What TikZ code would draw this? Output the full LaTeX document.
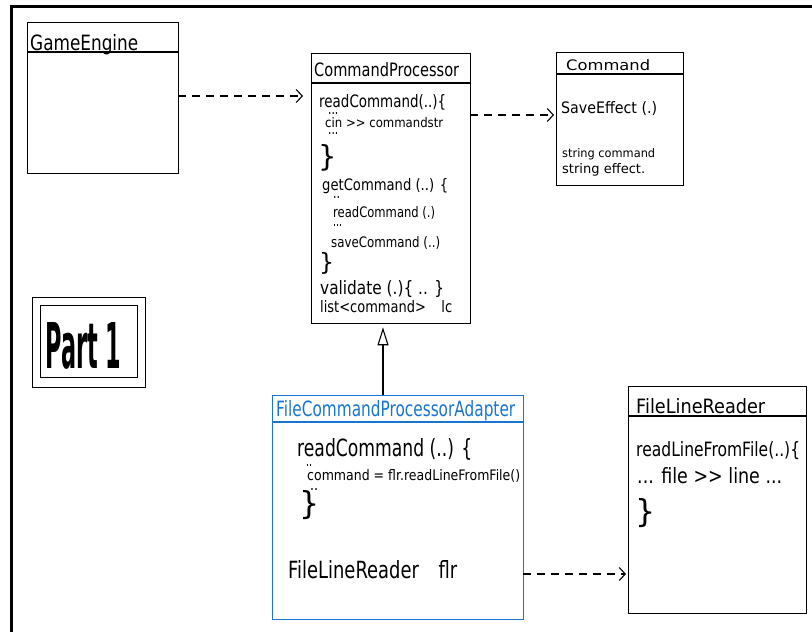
\documentclass[tikz,border=0pt]{standalone}
\usepackage{fontspec}
\setmainfont{DejaVu Sans}
\usetikzlibrary{arrows.meta}
\definecolor{adblue}{RGB}{24,118,210}
\newcommand\tw[3]{\resizebox{#1pt}{#2pt}{#3}}
\tikzset{
  cls/.style={draw=black, line width=1.3pt, rectangle, anchor=north west, inner sep=0pt, fill=none},
  hdr/.style={line width=1.3pt},
  txt/.style={anchor=base west, inner sep=0pt, font=\fontsize{14}{14}\selectfont},
  dep/.style={line width=1.1pt, dash pattern=on 8pt off 6pt, -{Straight Barb[length=6pt,width=13pt,line width=1.1pt]}},
  inh/.style={line width=1.1pt, -{Triangle[open,length=18pt,width=11pt,line width=1.1pt]}},
}
\begin{document}
\begin{tikzpicture}[x=1pt,y=-1pt]
\useasboundingbox (0,0) rectangle (812,632);
% frame
\draw[line width=3pt] (11,632) -- (11,6) -- (812,6);

% GameEngine
\node[cls, minimum width=151pt, minimum height=151pt] (ge) at (27,22) {};
\draw[hdr] (27,52) -- (178,52);
\node[txt] (getitle) at (30,50) {\tw{108}{16}{GameEngine}};

% CommandProcessor
\node[cls, minimum width=159pt, minimum height=270pt] (cp) at (311,53) {};
\draw[hdr] (311,83) -- (470,83);
\node[txt] (cptitle) at (314,76) {\tw{145}{14}{CommandProcessor}};
\node[txt] (cp1) at (319,107) {\tw{127}{13}{readCommand(..)\{}};
\node[txt] (cp1d) at (328,114) {\tw{10}{2}{...}};
\node[txt] (cp2) at (325,127) {\tw{118}{10}{cin {>}{>} commandstr}};
\node[txt] (cp2d) at (328,134) {\tw{10}{2}{...}};
\node[txt] (cp3) at (318,166) {\resizebox{!}{22pt}{\}}};
\node[txt] (cp4) at (322,190) {\tw{126}{12}{getCommand (..) \{}};
\node[txt] (cp4d) at (333,198) {\tw{7}{2}{..}};
\node[txt] (cp5) at (333,217) {\tw{102}{11}{readCommand (.)}};
\node[txt] (cp5d) at (333,226) {\tw{9}{2}{...}};
\node[txt] (cp6) at (331,247) {\tw{109}{11}{saveCommand (..)}};
\node[txt] (cp7) at (319,270) {\resizebox{!}{18pt}{\}}};
\node[txt] (cp8) at (320,294) {\tw{124}{14}{validate (.)\{ .. \}}};
\node[txt] (cp9) at (320,312) {\tw{132}{12}{list<command>\hspace{1.2em}lc}};

% Command
\node[cls, minimum width=127pt, minimum height=133pt] (cmd) at (556,52) {};
\draw[hdr] (556,74) -- (683,74);
\node[txt] (cmdtitle) at (566,70) {\tw{84}{11}{Command}};
\node[txt] (cmd1) at (561,113) {\tw{96}{12}{SaveEffect (.)}};
\node[txt] (cmd2) at (562,157) {\tw{93}{9}{string command}};
\node[txt] (cmd3) at (562,173) {\tw{83}{10}{string effect.}};

% Part 1
\node[cls, minimum width=113pt, minimum height=90pt] (p1o) at (32,297) {};
\node[cls, minimum width=97pt, minimum height=72pt] (p1i) at (40,305) {};
\node[anchor=base west, inner sep=0pt] (p1t) at (45,368) {\resizebox{76pt}{46pt}{\bfseries Part 1}};

% FileCommandProcessorAdapter
\node[cls, draw=adblue, minimum width=251pt, minimum height=224pt] (fa) at (272,395) {};
\draw[hdr, adblue] (272,422) -- (523,422);
\node[txt, text=adblue] (fatitle) at (276,416) {\tw{239}{16}{FileCommandProcessorAdapter}};
\node[txt] (fa1) at (297,456) {\tw{175}{18}{readCommand (..) \{}};
\node[txt] (fa1d) at (306,466) {\tw{6}{2}{..}};
\node[txt] (fa2) at (307,480) {\tw{213}{11}{command = flr.readLineFromFile()}};
\node[txt] (fa3) at (299,514) {\resizebox{!}{24pt}{\}}};
\node[txt] (fa3d) at (310,490) {\tw{8}{2}{..}};
\node[txt] (fa4) at (288,578) {\tw{169}{18}{FileLineReader\hspace{1.1em}flr}};

% FileLineReader
\node[cls, minimum width=178pt, minimum height=227pt] (flr) at (628,386) {};
\draw[hdr] (628,416) -- (806,416);
\node[txt] (flrtitle) at (636,413) {\tw{129}{15}{FileLineReader}};
\node[txt] (flr1) at (636,456) {\tw{164}{15}{readLineFromFile(..)\{}};
\node[txt] (flr2) at (637,483) {\tw{145}{16}{... file {>}{>} line ...}};
\node[txt] (flr3) at (635,522) {\resizebox{!}{24pt}{\}}};

% connectors
\coordinate (gearr) at (178,96);
\draw[dep, shorten >=8pt] (gearr) -- (cp.west |- gearr);
\coordinate (cparr) at (470,115);
\draw[dep, shorten >=2pt] (cparr) -- (cmd.west |- cparr);
\coordinate (inhx) at (383,0);
\draw[inh, shorten >=3pt] (fa.north -| inhx) -- (cp.south -| inhx);
\coordinate (faarr) at (523,574);
\draw[dep, shorten >=2pt] (faarr) -- (flr.west |- faarr);
\end{tikzpicture}
\end{document}
